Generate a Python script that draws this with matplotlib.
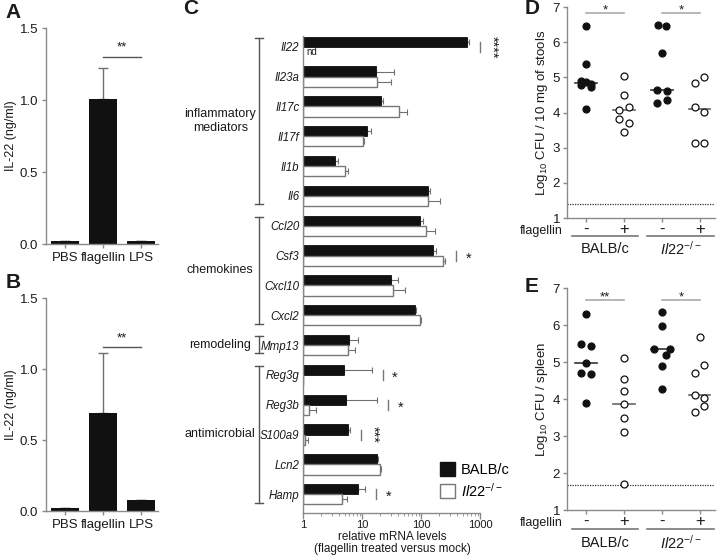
import numpy as np
import matplotlib
matplotlib.use('Agg')
import matplotlib.pyplot as plt
import matplotlib.transforms as mtransforms
from matplotlib.patches import Patch

plt.rcParams['font.family'] = ['Liberation Sans', 'DejaVu Sans']
plt.rcParams['mathtext.fontset'] = 'custom'
plt.rcParams['mathtext.rm'] = 'Liberation Sans'
plt.rcParams['mathtext.it'] = 'Liberation Sans:italic'
plt.rcParams['mathtext.bf'] = 'Liberation Sans:bold'

TXT = '#1a1a1a'
AXC = '#8a8a8a'
ERRC = '#707070'

# A / B: IL-22 protein
stim = ['PBS', 'flagellin', 'LPS']
il22_a = [0.02, 1.01, 0.02]
il22_a_err = [0.0, 0.21, 0.0]
il22_b = [0.02, 0.69, 0.075]
il22_b_err = [0.0, 0.42, 0.005]

# C: relative mRNA levels
genes = ['Il22', 'Il23a', 'Il17c', 'Il17f', 'Il1b', 'Il6', 'Ccl20', 'Csf3',
         'Cxcl10', 'Cxcl2', 'Mmp13', 'Reg3g', 'Reg3b', 'S100a9', 'Lcn2', 'Hamp']
balb = [584, 16.9, 20.8, 12.1, 3.46, 130, 94, 155, 30, 77.6, 5.8, 4.9, 5.25, 5.6, 17.8, 8.3]
balb_hi = [638, 34.6, 22.5, 13.9, 3.9, 138, 105, 174, 39.5, 81, 8.3, 14.3, 17.6, 6.1, 18.6, 11]
ko = [np.nan, 17.8, 42, 10.3, 5.05, 130, 119, 234, 32.5, 94, 5.7, 1.0, 1.22, 1.07, 20, 4.5]
ko_hi = [np.nan, 30, 56.8, 10.7, 5.7, 208, 169, 253, 52, 100, 7.4, 1.0, 1.61, 1.18, 20.4, 5.4]
gene_groups = [('inflammatory\nmediators', 0, 5), ('chemokines', 6, 9),
               ('remodeling', 10, 10), ('antimicrobial', 11, 15)]
sig_c = {'Il22': '****', 'Csf3': '*', 'Reg3g': '*', 'Reg3b': '*', 'S100a9': '***', 'Hamp': '*'}

# D / E: CFU
cond = ['-', '+', '-', '+']
strains = ['BALB/c', r'$\it{Il22}^{-/-}$']
stool = [
    [6.47, 5.37, 4.9, 4.88, 4.8, 4.78, 4.73, 4.1],
    [5.05, 4.49, 4.16, 4.07, 3.82, 3.69, 3.44],
    [6.5, 6.45, 5.7, 4.64, 4.62, 4.37, 4.26],
    [5.02, 4.83, 4.16, 4.02, 3.13, 3.13],
]
stool_dx = [
    [0, 0, -0.13, 0, 0.13, -0.13, 0.13, 0],
    [0, 0, 0.13, -0.13, -0.13, 0.13, 0],
    [-0.1, 0.1, 0, -0.13, 0.13, 0.13, -0.13],
    [0.12, -0.12, -0.12, 0.12, -0.12, 0.12],
]
spleen = [
    [6.31, 5.5, 5.42, 4.98, 4.7, 4.67, 3.9],
    [5.1, 4.54, 4.22, 3.86, 3.49, 3.11, 1.7],
    [6.36, 5.97, 5.35, 5.35, 5.2, 4.9, 4.27],
    [5.69, 4.92, 4.7, 4.11, 4.02, 3.8, 3.64],
]
spleen_dx = [
    [0, -0.13, 0.13, 0, -0.13, 0.13, 0],
    [0, 0, 0, 0, 0, 0, 0],
    [0, 0, -0.22, 0.22, 0.1, 0, 0],
    [0, 0.12, -0.12, -0.12, 0.12, 0.12, -0.12],
]
stool_limit = 1.4
spleen_limit = 1.68

fig = plt.figure(figsize=(7.2, 5.58), dpi=100)


def style_axes(ax):
    for s in ['top', 'right']:
        ax.spines[s].set_visible(False)
    for s in ['left', 'bottom']:
        ax.spines[s].set_color(AXC)
        ax.spines[s].set_linewidth(1.0)
    ax.tick_params(colors=AXC, labelcolor=TXT, width=1.0)


def il22_panel(rect, vals, errs, sig_y, letter, letter_y):
    ax = fig.add_axes(rect)
    x = np.arange(len(stim))
    ax.bar(x, vals, width=0.72, color='#111111', zorder=2)
    ax.errorbar(x, vals, yerr=[np.zeros(len(vals)), errs], fmt='none',
                ecolor=ERRC, elinewidth=1.0, capsize=3.5, capthick=1.0, zorder=1)
    ax.set_xlim(-0.5, 2.45)
    ax.set_ylim(0, 1.5)
    ax.set_yticks([0, 0.5, 1.0, 1.5])
    ax.set_yticklabels(['0.0', '0.5', '1.0', '1.5'], fontsize=9.5)
    ax.set_xticks(x)
    ax.set_xticklabels(stim, fontsize=9.5)
    ax.tick_params(axis='both', length=3, pad=2.5)
    ax.set_ylabel('IL-22 (ng/ml)', fontsize=9, color=TXT, labelpad=2)
    style_axes(ax)
    ax.plot([1, 2], [sig_y, sig_y], color='#555555', lw=1.0)
    ax.text(1.5, sig_y + 0.02, '**', ha='center', va='bottom', fontsize=9.5, color=TXT)
    fig.text(0.008, letter_y, letter, fontsize=15, fontweight='bold',
             color=TXT, va='center')
    return ax


il22_panel([0.0639, 0.5627, 0.1556, 0.3871], il22_a, il22_a_err, 1.3, 'A', 0.978)
il22_panel([0.0639, 0.0842, 0.1556, 0.3817], il22_b, il22_b_err, 1.155, 'B', 0.493)

# ---- panel C
axc = fig.add_axes([0.4215, 0.0806, 0.2458, 0.8548])
y = np.arange(len(genes))
bh = 0.34
balb = np.array(balb, float)
ko = np.array(ko, float)
balb_hi = np.array(balb_hi, float)
ko_hi = np.array(ko_hi, float)
axc.barh(y - bh / 2, balb - 1, left=1, height=bh, color='#111111',
         edgecolor='#111111', lw=0.6, zorder=2)
ok = ~np.isnan(ko)
axc.barh(y[ok] + bh / 2, ko[ok] - 1, left=1, height=bh, color='white',
         edgecolor='#777777', lw=1.0, zorder=2)
axc.errorbar(balb, y - bh / 2, xerr=[np.zeros(len(balb)), balb_hi - balb], fmt='none',
             ecolor=ERRC, elinewidth=0.8, capsize=2.2, capthick=0.8, zorder=1)
axc.errorbar(ko[ok], y[ok] + bh / 2, xerr=[np.zeros(ok.sum()), ko_hi[ok] - ko[ok]],
             fmt='none', ecolor=ERRC, elinewidth=0.8, capsize=2.2, capthick=0.8, zorder=1)
axc.text(1.12, 0 + bh / 2, 'nd', fontsize=7, va='center', ha='left', color=TXT)
axc.set_xscale('log')
axc.set_xlim(1, 1000)
axc.set_ylim(15.63, -0.36)
axc.set_yticks(y)
axc.set_yticklabels(genes, fontsize=8.3, style='italic')
axc.tick_params(axis='y', length=0, pad=3)
axc.tick_params(axis='x', which='major', length=4, labelsize=8, pad=1)
axc.tick_params(axis='x', which='minor', length=2.5, color=AXC)
axc.set_xticks([1, 10, 100, 1000])
axc.set_xticklabels(['1', '10', '100', '1000'])
axc.text(0.5, -0.038, 'relative mRNA levels\n(flagellin treated versus mock)',
         transform=axc.transAxes, ha='center', va='top', fontsize=8.5, color=TXT,
         linespacing=1.0, multialignment='center')
style_axes(axc)

for g, stars in sig_c.items():
    i = genes.index(g)
    top = np.nanmax([balb_hi[i], ko_hi[i]])
    xl = top * 1.55
    axc.plot([xl, xl], [i - 0.17, i + 0.17], color='#777777', lw=1.0, clip_on=False)
    rot = 270 if len(stars) > 1 else 0
    axc.text(xl * 1.6, i + (0.1 if rot == 0 else 0), stars, rotation=rot,
             ha='center', va='center', fontsize=10.5, color=TXT, clip_on=False)

btr = axc.get_yaxis_transform()
for label, i0, i1 in gene_groups:
    y0, y1 = i0 - 0.29, i1 + 0.28
    axc.plot([-0.25, -0.25], [y0, y1], color='#555555', lw=1.0, transform=btr, clip_on=False)
    for yy in (y0, y1):
        axc.plot([-0.273, -0.227], [yy, yy], color='#555555', lw=1.0,
                 transform=btr, clip_on=False)
    axc.text(-0.47, (y0 + y1) / 2, label, transform=btr, ha='center', va='center',
             fontsize=9, color=TXT, multialignment='center')

axc.legend(handles=[Patch(facecolor='#111111', edgecolor='#111111'),
                    Patch(facecolor='white', edgecolor='#777777')],
           labels=['BALB/c', r'$\it{Il22}^{-/-}$'], loc='center left',
           bbox_to_anchor=(0.70, 0.068), frameon=False, fontsize=10.5,
           handlelength=1.0, handleheight=1.1, handletextpad=0.4, labelspacing=0.3)
fig.text(0.254, 0.984, 'C', fontsize=15, fontweight='bold', color=TXT, va='center')


# ---- panels D / E
def cfu_panel(rect, data, dx, limit, sig, ylabel, letter, letter_y, offs):
    ax = fig.add_axes(rect)
    for k, vals in enumerate(data):
        xs = k + np.array(dx[k])
        filled = (k % 2 == 0)
        ax.plot(xs, vals, 'o', ms=5.0, mec='#111111', mew=0.9,
                mfc='#111111' if filled else 'white', zorder=3, clip_on=False)
        med = np.median(vals)
        ax.plot([k - 0.28, k + 0.28], [med, med], color='#333333' if filled else '#666666',
                lw=1.2, zorder=2)
    ax.axhline(limit, color='#333333', lw=0.9, ls=(0, (1, 1)))
    ax.set_xlim(-0.5, 3.4)
    ax.set_ylim(1, 7)
    ax.set_yticks(range(1, 8))
    ax.tick_params(axis='y', labelsize=9.5, length=3, pad=2)
    ax.set_xticks(range(4))
    ax.set_xticklabels(cond, fontsize=12)
    ax.tick_params(axis='x', length=3, pad=0)
    ax.set_ylabel(ylabel, fontsize=9.5, color=TXT, labelpad=2)
    style_axes(ax)
    for x0, (txt, sy) in zip([0, 2], sig):
        ax.plot([x0, x0 + 1], [sy, sy], color='#aaaaaa', lw=1.2)
        ax.text(x0 + 0.5, sy - 0.02, txt, ha='center', va='baseline', fontsize=9.5,
                color=TXT)
    xt = ax.get_xaxis_transform()
    ax.annotate('flagellin', xy=(-0.5, 0), xycoords=xt, xytext=(-4, offs[0]),
                textcoords='offset pixels', ha='right', va='center', fontsize=9, color=TXT)
    ltr = mtransforms.offset_copy(xt, fig=fig, y=offs[1], units='dots')
    for g, name in zip([0, 2], strains):
        ax.plot([g - 0.38, g + 1.38], [0, 0], color='#777777', lw=1.2,
                transform=ltr, clip_on=False)
        ax.annotate(name, xy=(g + 0.5, 0), xycoords=xt, xytext=(0, offs[2]),
                    textcoords='offset pixels', ha='center', va='center',
                    fontsize=10.5, color=TXT)
    fig.text(0.728, letter_y, letter, fontsize=15, fontweight='bold',
             color=TXT, va='center')
    return ax


cfu_panel([0.7875, 0.6093, 0.2056, 0.3781], stool, stool_dx, stool_limit,
          [('*', 6.83), ('*', 6.83)], r'Log$_{10}$ CFU / 10 mg of stools', 'D', 0.984,
          (-13, -18, -31))
cfu_panel([0.7875, 0.086, 0.2056, 0.3978], spleen, spleen_dx, spleen_limit,
          [('**', 6.68), ('*', 6.68)], r'Log$_{10}$ CFU / spleen', 'E', 0.487,
          (-13, -19, -33))

fig.savefig('out.png', dpi=100)
